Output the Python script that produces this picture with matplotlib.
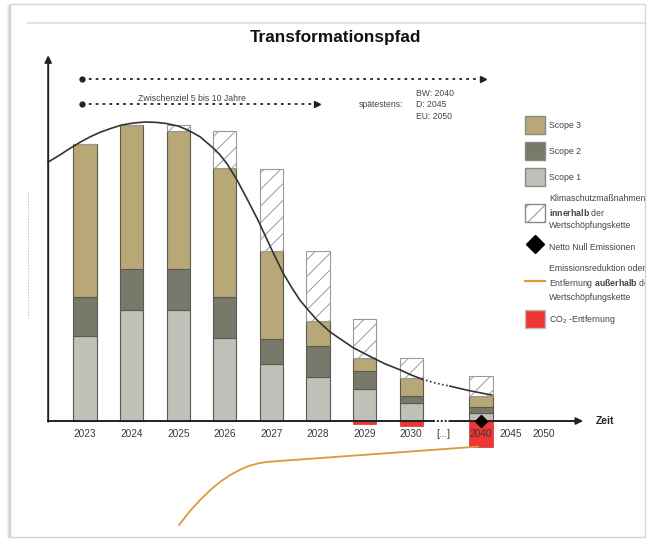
import matplotlib
matplotlib.use('Agg')
import matplotlib.pyplot as plt
from matplotlib.patches import Patch, Rectangle
from matplotlib.lines import Line2D
from matplotlib.transforms import Bbox, TransformedBbox
import numpy as np

plt.rcParams['font.family'] = ['Liberation Sans', 'DejaVu Sans']
plt.rcParams['mathtext.fontset'] = 'custom'
plt.rcParams['mathtext.rm'] = 'Liberation Sans'
plt.rcParams['mathtext.bf'] = 'Liberation Sans:bold'
plt.rcParams['hatch.color'] = '#9a9a9a'
plt.rcParams['hatch.linewidth'] = 0.7

# Daten
years = ['2023', '2024', '2025', '2026', '2027', '2028', '2029', '2030', '2040']
bar_pos = [0, 1, 2, 3, 4, 5, 6, 7, 8.5]
scope1 = [22.9, 29.9, 29.9, 22.4, 15.4, 11.9, 8.6, 4.9, 2.1]
scope2 = [10.5, 11.1, 11.1, 11.1, 6.8, 8.3, 4.9, 1.9, 1.8]
scope3 = [41.2, 38.8, 37.2, 34.6, 23.6, 6.7, 3.4, 4.9, 2.9]
massnahmen = [0, 0, 1.6, 10.2, 22.2, 18.9, 10.5, 5.4, 5.4]
co2_entfernung = [0, 0, 0, 0, 0, 0, -0.8, -1.3, -7.0]
netto_null = [0]  # bei 2040

tick_labels = ['2023', '2024', '2025', '2026', '2027', '2028', '2029', '2030',
               '[...]', '2040', '2045', '2050']
tick_pos = [0, 1, 2, 3, 4, 5, 6, 7, 7.68, 8.5, 9.14, 9.85]

# Pfad (schwarze Kurve)
pfad_x = [-0.79, -0.54, -0.32, -0.11, 0.11, 0.32, 0.54, 0.79, 1.03, 1.29,
          1.52, 1.74, 2.00, 2.23, 2.47, 2.75, 2.90, 3.05, 3.26, 3.48, 3.71,
          4.01, 4.25, 4.44, 4.61, 4.79, 4.98, 5.26, 5.47, 5.75, 6.01, 6.18,
          6.44, 6.76, 7.00, 7.23, 7.53, 7.83, 8.24, 8.73]
pfad_y = [69.8, 71.7, 73.5, 75.1, 76.6, 77.8, 78.8, 79.8, 80.3, 80.6,
          80.5, 80.2, 79.5, 78.3, 76.6, 73.6, 71.7, 69.3, 65.0, 59.8, 54.2,
          46.1, 39.9, 35.9, 32.6, 29.9, 27.2, 24.0, 22.2, 19.8, 18.1, 17.0,
          15.4, 13.8, 12.4, 11.3, 10.2, 9.4, 8.2, 7.0]

# Emissionsreduktion außerhalb der Wertschöpfungskette (orange Linie)
extern_x = [2.02, 2.25, 2.47, 2.69, 2.90, 3.11, 3.33, 3.54, 3.76, 3.93, 8.43]
extern_y = [-28.0, -24.3, -21.3, -18.6, -16.4, -14.6, -13.1, -12.0, -11.3,
            -11.0, -6.9]

# Farben
c_s3 = '#b9a877'
c_s2 = '#78786b'
c_s1 = '#c0c0b9'
c_red = '#ef3535'
c_orange = '#d89b3c'
c_edge = '#5a5a50'

fig = plt.figure(figsize=(6.49, 5.43), dpi=100)
ax = fig.add_axes([0, 0, 1, 1])
ax.set_xlim(-1.824, 12.103)
ax.set_ylim(-32.88, 113.48)
ax.axis('off')

# Rahmen der Folie
fig.add_artist(Rectangle((10 / 649, 1 - 537 / 543), 635 / 649, 533 / 543,
                         transform=fig.transFigure, fill=False,
                         edgecolor='#d6d6d6', lw=1))
for i, a in enumerate([0.35, 0.2, 0.1]):
    fig.add_artist(Line2D([(9 - i) / 649] * 2, [1 - 537 / 543, 1 - 5 / 543],
                          transform=fig.transFigure, color='#9a9a9a',
                          alpha=a, lw=1))
fig.add_artist(Line2D([28 / 649, 644 / 649], [1 - 23 / 543] * 2,
                      transform=fig.transFigure, color='#e2e2e2', lw=1.6))
fig.add_artist(Line2D([27.7 / 649] * 2, [1 - 192 / 543, 1 - 318 / 543],
                      transform=fig.transFigure, color='#b0b0b0', lw=0.6,
                      ls=(0, (1.5, 2))))

# Balken
w = 0.5
b2 = np.array(scope1)
b3 = b2 + np.array(scope2)
b4 = b3 + np.array(scope3)
ax.bar(bar_pos, scope1, w, color=c_s1, edgecolor=c_edge, lw=0.8, zorder=3)
ax.bar(bar_pos, scope2, w, bottom=b2, color=c_s2, edgecolor=c_edge, lw=0.8, zorder=3)
ax.bar(bar_pos, scope3, w, bottom=b3, color=c_s3, edgecolor=c_edge, lw=0.8, zorder=3)
ax.bar(bar_pos, massnahmen, w, bottom=b4, color='white', edgecolor='#9a9a9a',
       hatch='//', lw=0.8, zorder=3)
ax.bar(bar_pos, co2_entfernung, w, color=c_red, edgecolor='#d83030', lw=0.5, zorder=2)

# Kurve (zwischen 2030 und 2040 gepunktet)
px = np.array(pfad_x)
py = np.array(pfad_y)
m1 = px <= 7.23
m2 = (px >= 7.23) & (px <= 7.83)
m3 = px >= 7.83
ax.plot(px[m1], py[m1], color='#333333', lw=1.2, zorder=4)
ax.plot(px[m2], py[m2], color='#333333', lw=1.2, ls=(0, (1, 1.5)), zorder=4)
ax.plot(px[m3], py[m3], color='#333333', lw=1.2, zorder=4)

ax.plot(extern_x, extern_y, color=c_orange, lw=1.3, zorder=4)

# Achsen
ax.plot([-0.79, 7.47], [0, 0], color='#222222', lw=1.4, zorder=5)
ax.plot([7.47, 7.85], [0, 0], color='#222222', lw=1.4, ls=(0, (1, 1)), zorder=5)
ax.annotate('', xy=(10.69, 0), xytext=(7.85, 0),
            arrowprops=dict(arrowstyle='-|>', color='#222222', lw=1.4,
                            mutation_scale=10, shrinkA=0, shrinkB=0), zorder=5)
ax.annotate('', xy=(-0.79, 98.6), xytext=(-0.79, -0.2),
            arrowprops=dict(arrowstyle='-|>', color='#222222', lw=1.4,
                            mutation_scale=10, shrinkA=0, shrinkB=0), zorder=5)

ax.plot([8.5], netto_null, marker='D', color='black', ms=6, ls='none', zorder=6)

for lab, pos in zip(tick_labels, tick_pos):
    ax.text(pos, -3.4, lab, ha='center', va='center', fontsize=7.3,
            color='#3a3a3a', zorder=6)
ax.text(11.16, 0, 'Zeit', ha='center', va='center', fontsize=7.5,
        fontweight='bold', color='#222222')

# Titel
ax.text(5.365, 103.3, 'Transformationspfad', ha='center', va='center',
        fontsize=12.4, fontweight='bold', color='#111111')

# gestrichelte Zeitpfeile
for y, x1 in [(92.2, 8.54), (85.4, 4.97)]:
    ax.plot([-0.06, x1 - 0.1], [y, y], color='#222222', lw=1.3,
            ls=(0, (1.5, 2.3)))
    ax.plot([-0.06], [y], marker='o', ms=3.5, color='#222222')
    ax.plot([x1], [y], marker='>', ms=5, color='#222222')

ax.text(2.285, 86.8, 'Zwischenziel 5 bis 10 Jahre', ha='center', va='center',
        fontsize=6.3, color='#444444')
ax.text(6.82, 85.2, 'spätestens:', ha='right', va='center', fontsize=6.2,
        color='#444444')
ax.text(7.10, 85.2, 'BW: 2040\nD: 2045\nEU: 2050', ha='left', va='center',
        fontsize=6.2, color='#444444', linespacing=1.35)

# Legende
handles = [
    Patch(facecolor=c_s3, edgecolor='#8a8a80', lw=1),
    Patch(facecolor=c_s2, edgecolor='#8a8a80', lw=1),
    Patch(facecolor=c_s1, edgecolor='#8a8a80', lw=1),
    Patch(facecolor='white', edgecolor='#8a8a8a', hatch='//', lw=1),
    Line2D([], [], marker='D', color='black', ms=9, ls='none'),
    Line2D([], [], color=c_orange, lw=1.6),
    Patch(facecolor=c_red, edgecolor='#bbbbbb', lw=1),
]
labels = [
    'Scope 3',
    'Scope 2',
    'Scope 1',
    'Klimaschutzmaßnahmen\n$\\bf{innerhalb}$ der\nWertschöpfungskette',
    'Netto Null Emissionen',
    'Emissionsreduktion oder\nEntfernung $\\bf{außerhalb}$ der\nWertschöpfungskette',
    'CO$_2$ -Entfernung',
]
leg = ax.legend(handles, labels, loc='upper left',
                bbox_to_anchor=(525 / 649, 1 - 116 / 543),
                bbox_transform=fig.transFigure, frameon=False, fontsize=6.3,
                borderpad=0, borderaxespad=0, handlelength=2.3,
                handleheight=2.8, handletextpad=0.45, labelspacing=0.9)
clip = TransformedBbox(Bbox([[0, 0], [645 / 649, 1]]), fig.transFigure)
for t in leg.get_texts():
    t.set_color('#444444')
    t.set_linespacing(1.45)
    t.set_clip_box(clip)
    t.set_clip_on(True)

fig.savefig('out.png', dpi=100)
